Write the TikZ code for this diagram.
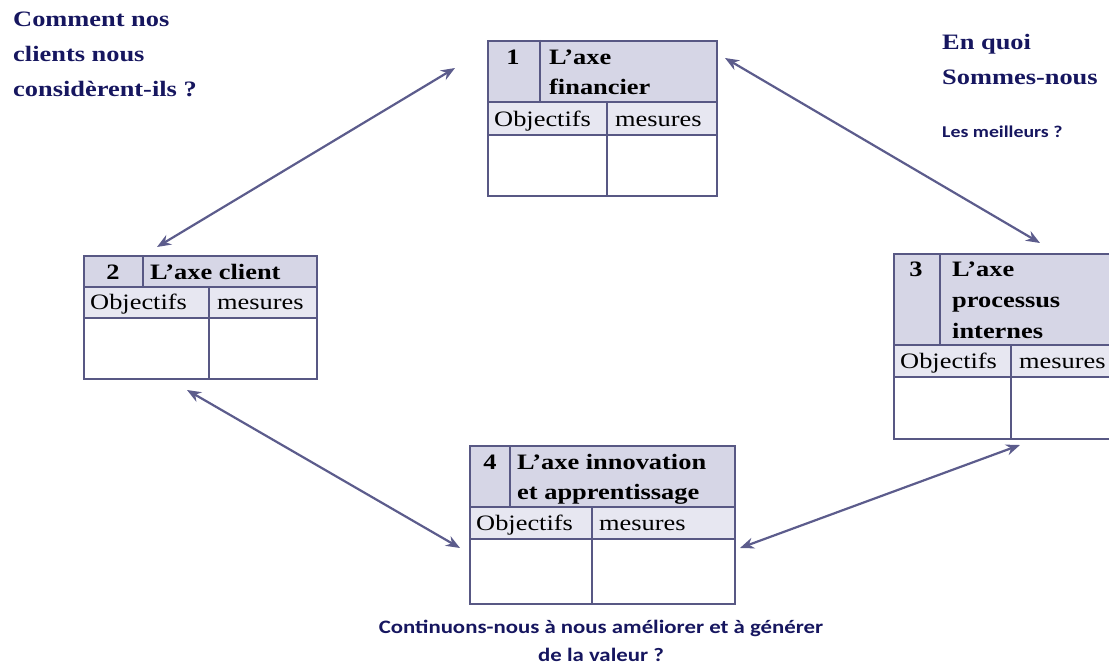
\documentclass[tikz,border=0pt]{standalone}
\usepackage{fontspec}
\setmainfont{Liberation Serif}[FakeStretch=1.2]
\newfontfamily\calsans{Carlito}[FakeStretch=1.2]
\usetikzlibrary{arrows.meta}
\definecolor{bd}{RGB}{88,88,132}
\definecolor{hdr}{RGB}{214,214,230}
\definecolor{rowc}{RGB}{231,231,241}
\definecolor{tblue}{RGB}{22,22,95}
\definecolor{arr}{RGB}{92,92,140}
\tikzset{
  frame/.style={draw=bd, line width=2.4pt},
  inner/.style={draw=bd, line width=2pt},
  bt/.style={anchor=base west, inner sep=0pt, font=\fontsize{22}{24}\selectfont\bfseries},
  bn/.style={anchor=base, inner sep=0pt, font=\fontsize{22}{24}\selectfont\bfseries},
  rt/.style={anchor=base west, inner sep=0pt, font=\fontsize{22}{24}\selectfont},
  qt/.style={anchor=base west, inner sep=0pt, text=tblue, font=\fontsize{22}{24}\selectfont\bfseries},
  st/.style={inner sep=0pt, text=tblue, font=\fontsize{19}{21}\selectfont\calsans\bfseries},
  stsmall/.style={inner sep=0pt, text=tblue, font=\fontsize{16.5}{18}\selectfont\calsans\bfseries},
  link/.style={draw=arr, line width=2.2pt, {Stealth[length=14pt,width=11pt]}-{Stealth[length=14pt,width=11pt]}}
}
\begin{document}
\begin{tikzpicture}[x=1pt,y=-1pt]
\useasboundingbox (0,0) rectangle (1109,666);
\begin{scope}
\clip (0,0) rectangle (1109,666);
% ---- Box 1
\fill[hdr] (487,40) rectangle (716,102);
\fill[rowc] (487,102) rectangle (716,135);
\draw[inner] (487,102) -- (716,102) (487,135) -- (716,135) (540,40) -- (540,102) (607,102) -- (607,195);
\node[frame, fill=none, minimum width=229pt, minimum height=155pt, inner sep=0pt, anchor=north west] (b1) at (487,40) {};
\node[bn] (b1n) at (513,65) {1};
\node[bt] (b1t) at (549,65) {L’axe};
\node[bt] (b1u) at (549,95) {financier};
\node[rt] (b1o) at (494,127) {Objectifs};
\node[rt] (b1m) at (615,127) {mesures};
% ---- Box 2
\fill[hdr] (83,255) rectangle (316,287);
\fill[rowc] (83,287) rectangle (316,318);
\draw[inner] (83,287) -- (316,287) (83,318) -- (316,318) (143,255) -- (143,287) (209,287) -- (209,378);
\node[frame, minimum width=233pt, minimum height=123pt, inner sep=0pt, anchor=north west] (b2) at (83,255) {};
\node[bn] (b2n) at (113,279) {2};
\node[bt] (b2t) at (150,279) {L’axe client};
\node[rt] (b2o) at (90,309) {Objectifs};
\node[rt] (b2m) at (217,309) {mesures};
% ---- Box 3
\fill[hdr] (893,253) rectangle (1120,345);
\fill[rowc] (893,345) rectangle (1120,377);
\draw[inner] (893,345) -- (1120,345) (893,377) -- (1120,377) (940,253) -- (940,345) (1011,345) -- (1011,438);
\node[frame, minimum width=227pt, minimum height=185pt, inner sep=0pt, anchor=north west] (b3) at (893,253) {};
\node[bn] (b3n) at (916,276) {3};
\node[bt] (b3t) at (952,276) {L’axe};
\node[bt] (b3u) at (952,307) {processus};
\node[bt] (b3v) at (952,338) {internes};
\node[rt] (b3o) at (900,368) {Objectifs};
\node[rt] (b3m) at (1019,368) {mesures};
% ---- Box 4
\fill[hdr] (469,445) rectangle (734,507);
\fill[rowc] (469,507) rectangle (734,539);
\draw[inner] (469,507) -- (734,507) (469,539) -- (734,539) (510,445) -- (510,507) (592,507) -- (592,603);
\node[frame, minimum width=265pt, minimum height=158pt, inner sep=0pt, anchor=north west] (b4) at (469,445) {};
\node[bn] (b4n) at (490,469) {4};
\node[bt] (b4t) at (517,469) {L’axe innovation};
\node[bt] (b4u) at (517,499) {et apprentissage};
\node[rt] (b4o) at (476,530) {Objectifs};
\node[rt] (b4m) at (599,530) {mesures};
\end{scope}
% ---- Questions
\node[qt] (q1a) at (13,27) {Comment nos};
\node[qt] (q1b) at (13,62) {clients nous};
\node[qt] (q1c) at (13,97) {considèrent-ils ?};
\node[qt] (q2a) at (942,50) {En quoi};
\node[qt] (q2b) at (942,85) {Sommes-nous};
\node[stsmall, anchor=base west] (q2c) at (942,138) {Les meilleurs ?};
\node[st, anchor=base] (q3a) at (601,633) {Continuons-nous à nous améliorer et à générer};
\node[st, anchor=base] (q3b) at (601,661) {de la valeur ?};
% ---- Connectors
\coordinate (a1s) at (157,247);
\coordinate (a1e) at (455,68);
\coordinate (a2s) at (725,58);
\coordinate (a2e) at (1040,243);
\coordinate (a3s) at (187,390);
\coordinate (a3e) at (460,548);
\coordinate (a4s) at (740,548);
\coordinate (a4e) at (1020,445);
\draw[link] (a1s) -- (a1e);
\draw[link] (a2s) -- (a2e);
\draw[link] (a3s) -- (a3e);
\draw[link] (a4s) -- (a4e);
\end{tikzpicture}
\end{document}
